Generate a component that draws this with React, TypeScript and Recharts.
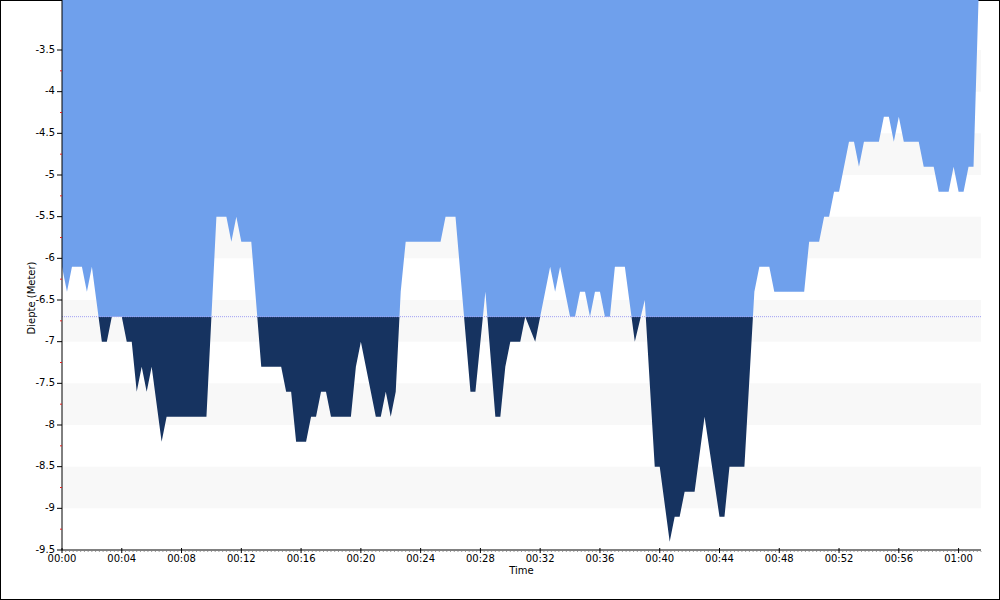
import React from 'react';
import { ComposedChart, Area, XAxis, YAxis, ReferenceArea, ReferenceLine } from 'recharts';

// dive profile: sample time (seconds) and depth (meter)
const timeSec = [
  0, 20, 40, 80, 100, 120, 160, 180, 200, 240, 260, 280, 300, 320, 340, 360, 400, 420, 580, 620,
  660, 680, 700, 720, 760, 800, 880, 900, 920, 940, 980, 1000, 1020, 1040, 1060, 1080, 1160, 1180, 1200, 1260,
  1280, 1300, 1320, 1340, 1360, 1380, 1520, 1540, 1580, 1640, 1660, 1700, 1740, 1760, 1780, 1800, 1840, 1860, 1900, 1960,
  1980, 2000, 2040, 2060, 2080, 2100, 2120, 2140, 2160, 2180, 2200, 2220, 2260, 2300, 2340, 2380, 2400, 2440, 2460, 2480,
  2500, 2540, 2580, 2640, 2660, 2680, 2740, 2780, 2800, 2840, 2860, 2980, 3000, 3040, 3060, 3080, 3100, 3120, 3160, 3180,
  3200, 3220, 3280, 3300, 3320, 3340, 3360, 3380, 3440, 3460, 3500, 3520, 3560, 3580, 3600, 3620, 3640, 3660, 3680,
];
const depth = [
  -6.1, -6.4, -6.1, -6.1, -6.4, -6.1, -7.0, -7.0, -6.7, -6.7, -7.0, -7.0, -7.6, -7.3, -7.6, -7.3, -8.2, -7.9, -7.9, -5.5,
  -5.5, -5.8, -5.5, -5.8, -5.8, -7.3, -7.3, -7.6, -7.6, -8.2, -8.2, -7.9, -7.9, -7.6, -7.6, -7.9, -7.9, -7.3, -7.0, -7.9,
  -7.9, -7.6, -7.9, -7.6, -6.4, -5.8, -5.8, -5.5, -5.5, -7.6, -7.6, -6.4, -7.9, -7.9, -7.3, -7.0, -7.0, -6.7, -7.0, -6.1,
  -6.4, -6.1, -6.7, -6.7, -6.4, -6.4, -6.7, -6.4, -6.4, -6.7, -6.7, -6.1, -6.1, -7.0, -6.5, -8.5, -8.5, -9.4, -9.1, -9.1,
  -8.8, -8.8, -7.9, -9.1, -9.1, -8.5, -8.5, -6.4, -6.1, -6.1, -6.4, -6.4, -5.8, -5.8, -5.5, -5.5, -5.2, -5.2, -4.6, -4.6,
  -4.9, -4.6, -4.6, -4.3, -4.3, -4.6, -4.3, -4.6, -4.6, -4.9, -4.9, -5.2, -5.2, -4.9, -5.2, -5.2, -4.9, -4.9, -2.9,
];

const limitDepth = -6.7;
const yDomain = [-9.5, -2.9];
const xDomain = [0, 3690];

const yLabelTicks = [-9.5, -9, -8.5, -8, -7.5, -7, -6.5, -6, -5.5, -5, -4.5, -4, -3.5];
const xLabelTicks = [0, 240, 480, 720, 960, 1200, 1440, 1680, 1920, 2160, 2400, 2640, 2880, 3120, 3360, 3600];
const bands = [[-9, -8.5], [-8, -7.5], [-7, -6.5], [-6, -5.5], [-5, -4.5], [-4, -3.5]];

const data = timeSec.map((t, i) => ({ t, depth: depth[i] }));

const yTicks = [...yLabelTicks, ...yLabelTicks.slice(1).map((v) => v - 0.25)].sort((a, b) => a - b);
const xTicks = Array.from({ length: Math.floor(xDomain[1] / 15) + 1 }, (_, i) => i * 15);

const splitOffset = (yDomain[1] - limitDepth) / (yDomain[1] - Math.min(...depth));

const font = 'Tahoma, "DejaVu Sans", sans-serif';

const pad = (n: number) => String(n).padStart(2, '0');
const fmtTime = (s: number) => `${pad(Math.floor(s / 3600))}:${pad(Math.floor((s % 3600) / 60))}`;

const TimeTick = (props: any) => {
  const { x, y, payload } = props;
  const v = payload.value;
  if (!xLabelTicks.includes(v)) {
    return <line x1={x} x2={x} y1={y + 1} y2={y + 2} stroke="#9a9a9a" />;
  }
  return (
    <g>
      <line x1={x} x2={x} y1={y - 2} y2={y + 3} stroke="#000" />
      <text x={x} y={y + 4} dy="0.75em" textAnchor="middle" fontSize={10} fontFamily={font} fill="#000">
        {fmtTime(v)}
      </text>
    </g>
  );
};

const DepthTick = (props: any) => {
  const { x, y, payload } = props;
  const v = payload.value;
  if (!yLabelTicks.includes(v)) {
    return <line x1={x - 2} x2={x} y1={y} y2={y} stroke="#e02020" />;
  }
  return (
    <g>
      <line x1={x - 5} x2={x} y1={y} y2={y} stroke="#000" />
      <text x={x - 7} y={y - 1} dy="0.35em" textAnchor="end" fontSize={10} fontFamily={font} fill="#000">
        {String(v)}
      </text>
    </g>
  );
};

export default function App() {
  return (
    <div
      style={{
        position: 'absolute', left: 0, top: 0, width: 1000, height: 600,
        boxSizing: 'border-box', border: '1px solid #000', background: '#fff',
      }}
    >
      <div style={{ position: 'absolute', left: -1, top: -1 }}>
        <ComposedChart width={1000} height={600} data={data} margin={{ top: 0, right: 19, bottom: 0, left: 0 }}>
          <defs>
            <linearGradient id="diveFill" x1="0" y1="0" x2="0" y2="1">
              <stop offset={splitOffset} stopColor="#6fa0ec" />
              <stop offset={splitOffset} stopColor="#163360" />
            </linearGradient>
          </defs>
          {bands.map(([a, b]) => (
            <ReferenceArea key={a} y1={a} y2={b} fill="#f8f8f8" fillOpacity={1} stroke="none" />
          ))}
          <ReferenceLine y={limitDepth} stroke="#a0a0f4" strokeDasharray="1 1" />
          <XAxis
            dataKey="t"
            type="number"
            domain={xDomain}
            ticks={xTicks}
            interval={0}
            height={50}
            tickSize={0}
            tickMargin={0}
            tickLine={false}
            axisLine={{ stroke: '#000' }}
            tick={<TimeTick />}
            label={{ value: 'Time', position: 'insideTop', offset: 17, fontSize: 10, fill: '#000', fontFamily: font }}
          />
          <YAxis
            type="number"
            domain={yDomain}
            allowDataOverflow
            ticks={yTicks}
            interval={0}
            width={62}
            tickSize={0}
            tickMargin={0}
            tickLine={false}
            axisLine={{ stroke: '#000' }}
            tick={<DepthTick />}
            label={{ value: 'Diepte (Meter)', angle: -90, position: 'center', dy: 23, fontSize: 10, fill: '#000', fontFamily: font }}
          />
          <Area
            type="linear"
            dataKey="depth"
            baseValue={yDomain[1]}
            stroke="none"
            fill="url(#diveFill)"
            fillOpacity={1}
            dot={false}
            activeDot={false}
            isAnimationActive={false}
          />
        </ComposedChart>
      </div>
    </div>
  );
}
